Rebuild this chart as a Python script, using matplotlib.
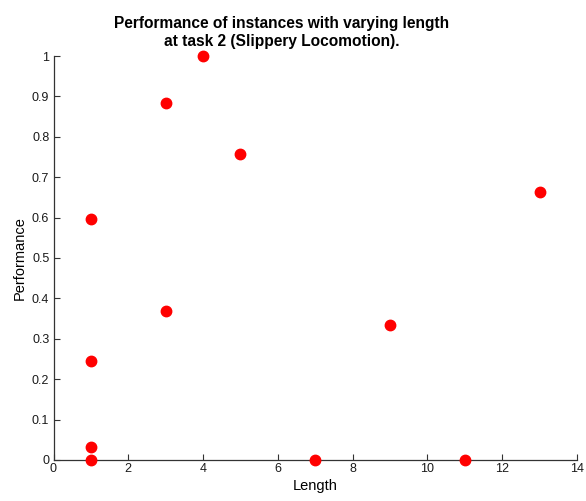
import matplotlib
matplotlib.use("Agg")
import matplotlib.pyplot as plt

length = [1, 1, 1, 1, 3, 3, 4, 5, 7, 9, 11, 13]
performance = [0.597, 0.245, 0.032, 0.0, 0.883, 0.369, 1.0, 0.758, 0.0, 0.335, 0.0, 0.664]

plt.rcParams['font.family'] = ['Liberation Sans', 'DejaVu Sans']

fig = plt.figure(figsize=(5.86, 5.01), dpi=100)
ax = fig.add_axes([53.5 / 586, 41 / 501, 523.5 / 586, 404 / 501])

ax.plot(length, performance, linestyle='none', marker='o', markersize=7.5,
        color='#ff0000', markeredgecolor='#ff0000', clip_on=False, zorder=3)

ax.set_xlim(0, 14)
ax.set_ylim(0, 1)
ax.set_xticks(range(0, 15, 2))
ax.set_yticks([i / 10 for i in range(11)])
ax.set_yticklabels(['0'] + [f'{i/10:g}' for i in range(1, 10)] + ['1'])

for side in ('top', 'right'):
    ax.spines[side].set_visible(False)
for side in ('left', 'bottom'):
    ax.spines[side].set_linewidth(0.9)
    ax.spines[side].set_color('#333333')

ax.tick_params(direction='in', length=4, width=0.8, labelsize=9, colors='#333333',
               labelcolor='#1a1a1a', pad=3)
ax.tick_params(axis='x', pad=2)

ax.set_xlabel('Length', fontsize=10.5, labelpad=3)
ax.set_ylabel('Performance', fontsize=10.5, labelpad=4)
ax.set_title('Performance of instances with varying length\nat task 2 (Slippery Locomotion).',
             fontsize=11.2, fontweight='bold', linespacing=1.25, pad=7, x=0.4365)

fig.savefig('out.png', dpi=100)
